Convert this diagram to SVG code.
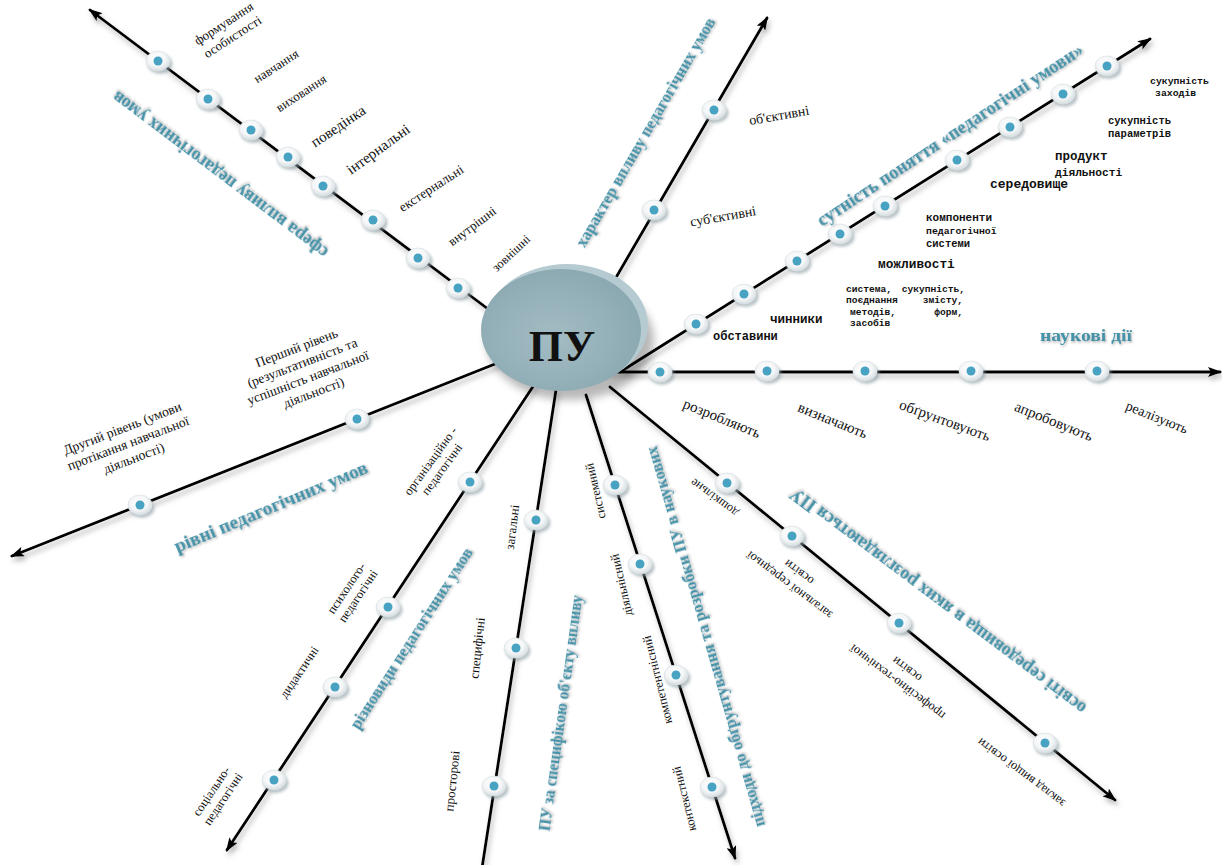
<svg xmlns="http://www.w3.org/2000/svg" xmlns:xlink="http://www.w3.org/1999/xlink" width="1222" height="865" viewBox="0 0 1222 865">
<defs>
  <style>
    .ray{stroke:#000;stroke-width:2.8;fill:none;stroke-linecap:round}
    .lbl{font-family:"Liberation Serif","DejaVu Serif",serif;fill:#111;text-anchor:middle}
    .mono{font-family:"Liberation Mono","DejaVu Sans Mono",monospace;fill:#111;font-weight:bold}
    .head{font-family:"Liberation Serif","DejaVu Serif",serif;font-weight:bold;fill:#4592a8;text-anchor:middle;filter:url(#tshadow)}
  </style>
  <filter id="lshadow" x="-10%" y="-10%" width="120%" height="120%">
    <feDropShadow dx="2" dy="4" stdDeviation="2.5" flood-color="#6f6f6f" flood-opacity="0.5"/>
  </filter>
  <filter id="tshadow" x="-10%" y="-30%" width="120%" height="160%">
    <feDropShadow dx="1" dy="1.5" stdDeviation="1" flood-color="#555" flood-opacity="0.45"/>
  </filter>
  <filter id="blur2" x="-50%" y="-50%" width="200%" height="200%">
    <feGaussianBlur stdDeviation="1.6"/>
  </filter>
  <filter id="blur5" x="-30%" y="-30%" width="160%" height="160%">
    <feGaussianBlur stdDeviation="4"/>
  </filter>
  <radialGradient id="beadGrad" cx="45%" cy="40%" r="60%">
    <stop offset="0" stop-color="#ffffff"/>
    <stop offset="0.6" stop-color="#f4f6f7"/>
    <stop offset="1" stop-color="#d6dde0"/>
  </radialGradient>
  <radialGradient id="diskGrad" cx="45%" cy="55%" r="60%">
    <stop offset="0" stop-color="#a3bcc4"/>
    <stop offset="1" stop-color="#8aa8b1"/>
  </radialGradient>
  <marker id="arr" viewBox="0 0 14 10" refX="12" refY="5" markerWidth="14" markerHeight="10" markerUnits="userSpaceOnUse" orient="auto">
    <path d="M0,0 L14,5 L0,10 L3,5 z" fill="#000"/>
  </marker>
  <g id="bead">
    <ellipse cx="2" cy="3" rx="12.5" ry="10" fill="#8c9ea4" opacity="0.6" filter="url(#blur2)"/>
    <ellipse cx="0" cy="0" rx="12" ry="10" fill="url(#beadGrad)" stroke="#dde3e6" stroke-width="0.8"/>
    <circle cx="0" cy="0" r="4.5" fill="#48a3c2"/>
  </g>
</defs>

<rect width="1222" height="865" fill="#ffffff"/>

<!-- connectors -->
<g id="connectors" filter="url(#lshadow)">
  <line class="ray" x1="500" y1="318" x2="90" y2="10" marker-end="url(#arr)"/>
  <line class="ray" x1="600" y1="305" x2="767" y2="18" marker-end="url(#arr)"/>
  <line class="ray" x1="620" y1="372" x2="1150" y2="39" marker-end="url(#arr)"/>
  <line class="ray" x1="610" y1="372" x2="1220" y2="372" marker-end="url(#arr)"/>
  <line class="ray" x1="500" y1="362" x2="12" y2="556" marker-end="url(#arr)"/>
  <line class="ray" x1="534" y1="385" x2="227" y2="850" marker-end="url(#arr)"/>
  <line class="ray" x1="556" y1="390" x2="482" y2="868"/>
  <line class="ray" x1="586" y1="395" x2="735" y2="858" marker-end="url(#arr)"/>
  <line class="ray" x1="610" y1="387" x2="1115" y2="800" marker-end="url(#arr)"/>
</g>

<!-- ray 1: сфера впливу -->
<g id="ray-sfera">
  <use xlink:href="#bead" x="158" y="61"/>
  <use xlink:href="#bead" x="208" y="99"/>
  <use xlink:href="#bead" x="251" y="130"/>
  <use xlink:href="#bead" x="288" y="157"/>
  <use xlink:href="#bead" x="323" y="186"/>
  <use xlink:href="#bead" x="373" y="220"/>
  <use xlink:href="#bead" x="418" y="258"/>
  <use xlink:href="#bead" x="458" y="288"/>
  <g transform="translate(228,30) rotate(-33)">
    <text class="lbl" font-size="13" y="-8" dy="0.35em">формування</text>
    <text class="lbl" font-size="13" y="8" dy="0.35em">особистості</text>
  </g>
  <text class="lbl" font-size="13" dy="0.35em" transform="translate(276,66) rotate(-33)">навчання</text>
  <text class="lbl" font-size="13" dy="0.35em" transform="translate(301,93) rotate(-33)">виховання</text>
  <text class="lbl" font-size="15" dy="0.35em" transform="translate(338,126) rotate(-34)">поведінка</text>
  <text class="lbl" font-size="15" dy="0.35em" transform="translate(378,149) rotate(-36)">інтернальні</text>
  <text class="lbl" font-size="13.5" dy="0.35em" transform="translate(431,188) rotate(-33)">екстернальні</text>
  <text class="lbl" font-size="13" dy="0.35em" transform="translate(472,226) rotate(-37)">внутрішні</text>
  <text class="lbl" font-size="12.5" dy="0.35em" transform="translate(511,253) rotate(-43)">зовнішні</text>
  <text class="head" font-size="18" dy="0.35em" textLength="265" lengthAdjust="spacingAndGlyphs" transform="translate(220,175) rotate(217)">сфера впливу педагогічних умов</text>
</g>

<!-- ray 2: характер впливу -->
<g id="ray-kharakter">
  <use xlink:href="#bead" x="714" y="110"/>
  <use xlink:href="#bead" x="654" y="210"/>
  <text class="lbl" font-size="14" dy="0.35em" transform="translate(779,115) rotate(-10)">об'єктивні</text>
  <text class="lbl" font-size="14" dy="0.35em" transform="translate(723,216) rotate(-10)">суб'єктивні</text>
  <text class="head" font-size="16.5" dy="0.35em" textLength="262" lengthAdjust="spacingAndGlyphs" transform="translate(645,132) rotate(-59.9)">характер впливу педагогічних умов</text>
</g>

<!-- ray 3: сутність поняття -->
<g id="ray-sutnist">
  <use xlink:href="#bead" x="696" y="324"/>
  <use xlink:href="#bead" x="744" y="294"/>
  <use xlink:href="#bead" x="797" y="261"/>
  <use xlink:href="#bead" x="840" y="234"/>
  <use xlink:href="#bead" x="885" y="206"/>
  <use xlink:href="#bead" x="957" y="160"/>
  <use xlink:href="#bead" x="1010" y="127"/>
  <use xlink:href="#bead" x="1063" y="94"/>
  <use xlink:href="#bead" x="1107" y="66"/>
  <text class="mono" font-size="9.8" x="1150" y="84">сукупність</text>
  <text class="mono" font-size="9.8" x="1155" y="96">заходів</text>
  <text class="mono" font-size="10.5" x="1108" y="124">сукупність</text>
  <text class="mono" font-size="10.5" x="1108" y="137">параметрів</text>
  <text class="mono" font-size="12.5" x="1055" y="160">продукт</text>
  <text class="mono" font-size="11.2" x="1055" y="176">діяльності</text>
  <text class="mono" font-size="13" x="990" y="188">середовище</text>
  <text class="mono" font-size="11" x="926" y="221">компоненти</text>
  <text class="mono" font-size="9.8" x="926" y="234">педагогічної</text>
  <text class="mono" font-size="10.5" x="926" y="247">системи</text>
  <text class="mono" font-size="12.8" x="878" y="268">можливості</text>
  <text class="mono" font-size="9.6" x="846" y="292">система,</text>
  <text class="mono" font-size="9.6" x="846" y="303">поєднання</text>
  <text class="mono" font-size="9.6" x="850" y="315">методів,</text>
  <text class="mono" font-size="9.6" x="850" y="326">засобів</text>
  <text class="mono" font-size="9.6" x="965" y="292" text-anchor="end">сукупність,</text>
  <text class="mono" font-size="9.6" x="963" y="303" text-anchor="end">змісту,</text>
  <text class="mono" font-size="9.6" x="963" y="315" text-anchor="end">форм,</text>
  <text class="mono" font-size="12.5" x="770" y="323">чинники</text>
  <text class="mono" font-size="12" x="713" y="340">обставини</text>
  <text class="head" font-size="18" dy="0.35em" textLength="315" lengthAdjust="spacingAndGlyphs" transform="translate(950,135) rotate(-33.5)">сутність поняття «педагогічні умови»</text>
</g>

<!-- ray 4: наукові дії -->
<g id="ray-diyi">
  <use xlink:href="#bead" x="660" y="372"/>
  <use xlink:href="#bead" x="767" y="371"/>
  <use xlink:href="#bead" x="865" y="371"/>
  <use xlink:href="#bead" x="971" y="371"/>
  <use xlink:href="#bead" x="1097" y="371"/>
  <text class="lbl" font-size="15" dy="0.35em" transform="translate(722,418) rotate(22)">розробляють</text>
  <text class="lbl" font-size="15" dy="0.35em" transform="translate(833,420) rotate(22)">визначають</text>
  <text class="lbl" font-size="15" dy="0.35em" transform="translate(945,420) rotate(20)">обґрунтовують</text>
  <text class="lbl" font-size="15" dy="0.35em" transform="translate(1054,421) rotate(22)">апробовують</text>
  <text class="lbl" font-size="14" dy="0.35em" transform="translate(1157,417) rotate(22)">реалізують</text>
  <text class="head" font-size="17.5" x="1086" y="341" textLength="92" lengthAdjust="spacingAndGlyphs">наукові дії</text>
</g>

<!-- ray 5: рівні -->
<g id="ray-rivni">
  <use xlink:href="#bead" x="357" y="419"/>
  <use xlink:href="#bead" x="140" y="505"/>
  <g transform="translate(305,370) rotate(-21)">
    <text class="lbl" font-size="13.5" y="-24" dy="0.35em">Перший рівень</text>
    <text class="lbl" font-size="13.5" y="-8" dy="0.35em">(результативність та</text>
    <text class="lbl" font-size="13.5" y="8" dy="0.35em">успішність навчальної</text>
    <text class="lbl" font-size="13.5" y="24" dy="0.35em">діяльності)</text>
  </g>
  <g transform="translate(128,443) rotate(-21)">
    <text class="lbl" font-size="13.5" y="-16" dy="0.35em">Другий рівень (умови</text>
    <text class="lbl" font-size="13.5" y="0" dy="0.35em">протікання навчальної</text>
    <text class="lbl" font-size="13.5" y="16" dy="0.35em">діяльності)</text>
  </g>
  <text class="head" font-size="18" dy="0.35em" textLength="208" lengthAdjust="spacingAndGlyphs" transform="translate(271,507) rotate(-22.8)">рівні педагогічних умов</text>
</g>

<!-- ray 6: різновиди -->
<g id="ray-riznovydy">
  <use xlink:href="#bead" x="470" y="482"/>
  <use xlink:href="#bead" x="388" y="607"/>
  <use xlink:href="#bead" x="335" y="687"/>
  <use xlink:href="#bead" x="274" y="780"/>
  <g transform="translate(436,465) rotate(-54)">
    <text class="lbl" font-size="12.5" y="-7" dy="0.35em">організаційно -</text>
    <text class="lbl" font-size="12.5" y="7" dy="0.35em">педагогічні</text>
  </g>
  <g transform="translate(352,592) rotate(-56)">
    <text class="lbl" font-size="12.5" y="-7" dy="0.35em">психолого-</text>
    <text class="lbl" font-size="12.5" y="7" dy="0.35em">педагогічні</text>
  </g>
  <text class="lbl" font-size="12.5" dy="0.35em" transform="translate(299,672) rotate(-56)">дидактичні</text>
  <g transform="translate(217,795) rotate(-56)">
    <text class="lbl" font-size="12.5" y="-7" dy="0.35em">соціально-</text>
    <text class="lbl" font-size="12.5" y="7" dy="0.35em">педагогічні</text>
  </g>
  <text class="head" font-size="16.5" dy="0.35em" textLength="212" lengthAdjust="spacingAndGlyphs" transform="translate(411,638) rotate(-57.2)">різновиди педагогічних умов</text>
</g>

<!-- ray 7: за специфікою -->
<g id="ray-spetsyfika">
  <use xlink:href="#bead" x="536" y="520"/>
  <use xlink:href="#bead" x="516" y="648"/>
  <use xlink:href="#bead" x="494" y="786"/>
  <text class="lbl" font-size="13" dy="0.35em" transform="translate(512,527) rotate(-83)">загальні</text>
  <text class="lbl" font-size="13" dy="0.35em" transform="translate(477,648) rotate(-84)">специфічні</text>
  <text class="lbl" font-size="13" dy="0.35em" transform="translate(452,781) rotate(-84)">просторові</text>
  <text class="head" font-size="16" dy="0.35em" textLength="238" lengthAdjust="spacingAndGlyphs" transform="translate(560,713) rotate(-82)">ПУ за специфікою об'єкту впливу</text>
</g>

<!-- ray 8: підходи -->
<g id="ray-pidkhody">
  <use xlink:href="#bead" x="615" y="485"/>
  <use xlink:href="#bead" x="640" y="564"/>
  <use xlink:href="#bead" x="676" y="675"/>
  <use xlink:href="#bead" x="712" y="787"/>
  <text class="lbl" font-size="12.5" dy="0.35em" transform="translate(595,491) rotate(-103)">системний</text>
  <text class="lbl" font-size="12.5" dy="0.35em" transform="translate(621,585) rotate(-103)">діяльнісний</text>
  <text class="lbl" font-size="12.5" dy="0.35em" transform="translate(657,680) rotate(-104)">компетентнісний</text>
  <text class="lbl" font-size="12.5" dy="0.35em" transform="translate(684,799) rotate(-104)">контекстний</text>
  <text class="head" font-size="16" dy="0.35em" textLength="395" lengthAdjust="spacingAndGlyphs" transform="translate(705,637) rotate(-106)">підходи до обґрунтування та розробки ПУ в наукових</text>
</g>

<!-- ray 9: освіті середовища -->
<g id="ray-osvita">
  <use xlink:href="#bead" x="727" y="483"/>
  <use xlink:href="#bead" x="792" y="536"/>
  <use xlink:href="#bead" x="899" y="623"/>
  <use xlink:href="#bead" x="1045" y="743"/>
  <text class="lbl" font-size="12.5" dy="0.35em" transform="translate(714,498) rotate(216.5)">дошкільне</text>
  <g transform="translate(794,579) rotate(217)">
    <text class="lbl" font-size="12.5" y="-8" dy="0.35em">загальної середньої</text>
    <text class="lbl" font-size="12.5" y="8" dy="0.35em">освіти</text>
  </g>
  <g transform="translate(902,676) rotate(217)">
    <text class="lbl" font-size="12.5" y="-8" dy="0.35em">професійно-технічної</text>
    <text class="lbl" font-size="12.5" y="8" dy="0.35em">освіти</text>
  </g>
  <text class="lbl" font-size="12.5" dy="0.35em" transform="translate(1021,773) rotate(217)">заклад вищої освіти</text>
  <text class="head" font-size="18" dy="0.35em" textLength="365" lengthAdjust="spacingAndGlyphs" transform="translate(938,601) rotate(216.9)">освіті середовища в яких розглядаються ПУ</text>
</g>

<!-- centre node -->
<g id="node-PU">
  <ellipse cx="570" cy="340" rx="84" ry="60" fill="#000" opacity="0.28" filter="url(#blur5)"/>
  <ellipse cx="567" cy="325" rx="81" ry="61" fill="#b6cbd1"/>
  <ellipse cx="561" cy="330" rx="80" ry="61" fill="url(#diskGrad)"/>
  <text x="562" y="361" font-family="'Liberation Serif','DejaVu Serif',serif" font-weight="bold" font-size="44" fill="#111" text-anchor="middle">ПУ</text>
</g>
</svg>
